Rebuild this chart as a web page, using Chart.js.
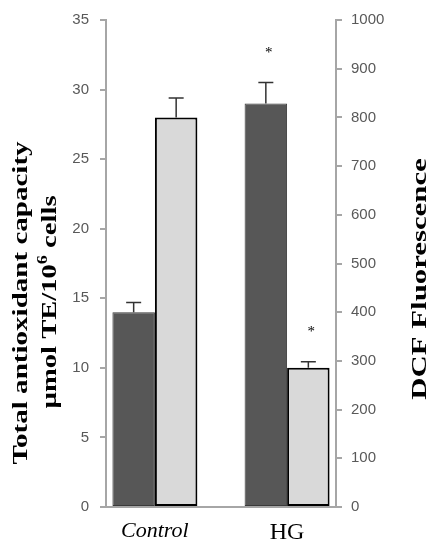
<!DOCTYPE html>
<html>
<head>
<meta charset="utf-8">
<script src="https://cdn.jsdelivr.net/npm/chart.js@4"></script>
<style>
  html, body { margin: 0; padding: 0; background: #fff; }
  canvas { display: block; }
</style>
</head>
<body>
<canvas id="chart" width="438" height="550"></canvas>
<script>
const categories = ["Control", "HG"];
const tacValues = [14, 29];     // total antioxidant capacity (left axis)
const tacErrors = [0.7, 1.5];
const dcfValues = [800, 286];   // DCF fluorescence (right axis)
const dcfErrors = [40, 12];
const tacStars = [false, true];
const dcfStars = [false, true];
const leftTicks = [0, 5, 10, 15, 20, 25, 30, 35];
const rightTicks = [0, 100, 200, 300, 400, 500, 600, 700, 800, 900, 1000];

const axisGray = "#a6a6a6";
const tickFont = { family: "'Liberation Sans', Arial, sans-serif", size: 15 };

// error bars + significance stars
const errorBars = {
  id: "errorBars",
  afterDatasetsDraw(chart) {
    const ctx = chart.ctx;
    chart.data.datasets.forEach((ds, i) => {
      const meta = chart.getDatasetMeta(i);
      const yScale = chart.scales[ds.yAxisID];
      meta.data.forEach((bar, j) => {
        const top = yScale.getPixelForValue(ds.data[j].y + ds.errors[j]);
        ctx.save();
        ctx.strokeStyle = "#333";
        ctx.lineWidth = 1.5;
        ctx.beginPath();
        ctx.moveTo(bar.x, bar.y);
        ctx.lineTo(bar.x, top);
        ctx.moveTo(bar.x - 7.5, top);
        ctx.lineTo(bar.x + 7.5, top);
        ctx.stroke();
        if (ds.stars[j]) {
          ctx.fillStyle = "#000";
          ctx.font = "15px 'Liberation Serif'";
          ctx.textAlign = "center";
          ctx.textBaseline = "middle";
          ctx.fillText("*", bar.x + 3, top - 30);
        }
        ctx.restore();
      });
    });
  },
};

// rotated axis titles (both read bottom to top, stretched along the text like the original)
const axisTitles = {
  id: "axisTitles",
  afterDraw(chart) {
    const ctx = chart.ctx;
    const font = "bold 22px 'Liberation Serif', 'Times New Roman', serif";
    const supFont = "bold 14px 'Liberation Serif', 'Times New Roman', serif";
    ctx.save();
    ctx.fillStyle = "#000";
    ctx.textBaseline = "middle";

    // left title, line 1
    ctx.save();
    ctx.translate(21, 303);
    ctx.rotate(-Math.PI / 2);
    ctx.scale(1.32, 1);
    ctx.font = font;
    ctx.textAlign = "center";
    ctx.fillText("Total antioxidant capacity", 0, 0);
    ctx.restore();

    // left title, line 2 with superscript
    ctx.save();
    ctx.translate(50, 302);
    ctx.rotate(-Math.PI / 2);
    ctx.scale(1.3, 1);
    ctx.textAlign = "left";
    const p1 = "\u00b5mol TE/10", p2 = "6", p3 = " cells";
    ctx.font = font;
    const w1 = ctx.measureText(p1).width, w3 = ctx.measureText(p3).width;
    ctx.font = supFont;
    const w2 = ctx.measureText(p2).width;
    let x = -(w1 + w2 + w3) / 2;
    ctx.font = font;
    ctx.fillText(p1, x, 0);
    x += w1;
    ctx.font = supFont;
    ctx.fillText(p2, x, -7);
    x += w2;
    ctx.font = font;
    ctx.fillText(p3, x, 0);
    ctx.restore();

    // right title
    ctx.save();
    ctx.translate(420, 279);
    ctx.rotate(-Math.PI / 2);
    ctx.scale(1.4, 1);
    ctx.font = font;
    ctx.textAlign = "center";
    ctx.fillText("DCF Fluorescence", 0, 0);
    ctx.restore();

    ctx.restore();
  },
};

const ctx = document.getElementById("chart").getContext("2d");
const myChart = new Chart(ctx, {
  type: "bar",
  data: {
    datasets: [
      {
        label: "Total antioxidant capacity",
        data: tacValues.map((v, i) => ({ x: i, y: v })),
        errors: tacErrors,
        stars: tacStars,
        yAxisID: "y",
        backgroundColor: "#575757",
        borderColor: "#3a3a3a",
        borderWidth: 1,
        borderSkipped: false,
      },
      {
        label: "DCF Fluorescence",
        data: dcfValues.map((v, i) => ({ x: i, y: v })),
        errors: dcfErrors,
        stars: dcfStars,
        yAxisID: "y1",
        backgroundColor: "#d9d9d9",
        borderColor: "#000",
        borderWidth: 2,
        borderSkipped: false,
      },
    ],
  },
  options: {
    responsive: false,
    animation: false,
    categoryPercentage: 0.643,
    barPercentage: 1,
    layout: { padding: { top: 13, left: 0, right: 0, bottom: 0 } },
    scales: {
      x: {
        type: "linear",
        min: -0.37,
        max: 1.37,
        offset: false,
        afterBuildTicks: (s) => {
          s.ticks = categories.map((c, i) => ({ value: i }));
        },
        afterFit: (s) => {
          s.height = 43;
        },
        grid: { display: false, drawTicks: false },
        border: { display: true, color: axisGray, width: 2 },
        ticks: {
          padding: 11,
          color: "#000",
          maxRotation: 0,
          callback: (v) => categories[v],
          font: (c) => ({
            family: "'Liberation Serif', 'Times New Roman', serif",
            size: c.index === 0 ? 22 : 24,
            style: c.index === 0 ? "italic" : "normal",
          }),
        },
      },
      y: {
        position: "left",
        min: 0,
        max: 35,
        afterBuildTicks: (s) => {
          s.ticks = leftTicks.map((v) => ({ value: v }));
        },
        afterFit: (s) => {
          s.width = 106;
        },
        grid: { drawOnChartArea: false, drawTicks: true, tickLength: 6, color: axisGray, lineWidth: 2 },
        border: { display: true, color: axisGray, width: 2 },
        ticks: { padding: 11, color: "#595959", font: tickFont, callback: (v) => String(v) },
      },
      y1: {
        position: "right",
        min: 0,
        max: 1000,
        afterBuildTicks: (s) => {
          s.ticks = rightTicks.map((v) => ({ value: v }));
        },
        afterFit: (s) => {
          s.width = 102;
        },
        grid: { drawOnChartArea: false, drawTicks: true, tickLength: 6, color: axisGray, lineWidth: 2 },
        border: { display: true, color: axisGray, width: 2 },
        ticks: { padding: 9, color: "#595959", font: tickFont, callback: (v) => String(v) },
      },
    },
    plugins: {
      legend: { display: false },
      tooltip: { enabled: false },
    },
  },
  plugins: [errorBars, axisTitles],
});
</script>
</body>
</html>
